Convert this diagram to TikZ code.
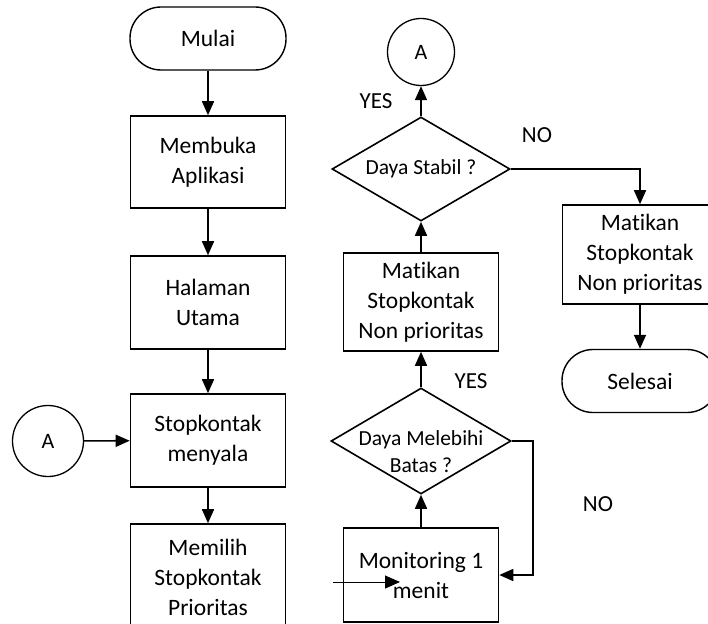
\documentclass[tikz,border=0pt]{standalone}
\usepackage{fontspec}
\setmainfont{Carlito}[Ligatures=NoCommon]
\usetikzlibrary{shapes.geometric,arrows.meta}
\begin{document}
\begin{tikzpicture}[x=1pt,y=-1pt,
  box/.style={draw,line width=1.6pt,inner sep=0pt,minimum width=155pt,align=center,font=\fontsize{23.5}{30}\selectfont},
  term/.style={draw,line width=1.4pt,rounded corners=31pt,inner sep=0pt,minimum width=156pt,minimum height=63pt,font=\fontsize{23.5}{30}\selectfont},
  conn/.style={draw,circle,line width=1.3pt,inner sep=0pt,font=\fontsize{22}{24}\selectfont},
  dec/.style={draw,diamond,line width=1.6pt,inner sep=0pt},
  dtext/.style={align=center,font=\fontsize{21.5}{27}\selectfont},
  lbl/.style={font=\fontsize{23}{28}\selectfont},
  arr/.style={line width=1.6pt,-{Triangle[length=14pt,width=12pt]}},
  thinarr/.style={line width=1pt,-{Triangle[length=15pt,width=13pt]}},
]
\useasboundingbox (0,0) rectangle (708,623);
\clip (0,0) rectangle (708,623);
% left column
\node[term] (mulai) at (208,38.5) {Mulai};
\node[box,minimum height=92pt] (buka) at (208,162) {Membuka\\Aplikasi};
\node[box,minimum height=93pt] (utama) at (208,302.5) {Halaman\\Utama};
\node[box,minimum height=93pt] (nyala) at (208,440.5) {Stopkontak\\menyala};
\node[box,minimum height=106pt] (pilih) at (208,577) {Memilih\\Stopkontak\\Prioritas};
\node[conn,minimum size=71pt] (a1) at (48,441) {A};
% middle column
\node[conn,minimum size=67pt] (a2) at (421,52) {A};
\node[dec,minimum width=178pt,minimum height=104pt] (stabil) at (421,169) {};
\node[dtext] (stabilt) at (421,169) {Daya Stabil ?};
\node[box,minimum height=98pt] (mati1) at (421,302) {Matikan\\Stopkontak\\Non prioritas};
\node[dec,minimum width=180pt,minimum height=106pt] (lebih) at (421,441) {};
\node[dtext] (lebiht) at (421,452) {Daya Melebihi\\Batas ?};
\node[box,minimum height=94pt] (monitor) at (421,575) {Monitoring 1\\menit};
% right column
\node[box,minimum height=99pt] (mati2) at (640,254.5) {Matikan\\Stopkontak\\Non prioritas};
\node[term] (selesai) at (640,381) {Selesai};
% labels
\node[lbl] (yes1) at (376,101) {YES};
\node[lbl] (no1) at (537,135) {NO};
\node[lbl] (yes2) at (471,381) {YES};
\node[lbl] (no2) at (598,504) {NO};
% connectors
\draw[arr] (mulai) -- (buka);
\draw[arr] (buka) -- (utama);
\draw[arr] (utama) -- (nyala);
\draw[arr] (nyala) -- (pilih);
\draw[arr] (a1) -- (nyala);
\draw[arr] (monitor) -- (lebih);
\draw[arr] (lebih) -- (mati1);
\draw[arr] (mati1) -- (stabil);
\draw[arr] (stabil) -- (a2);
\draw[arr] (stabil.east) -| (mati2.north);
\draw[arr] (mati2) -- (selesai);
\coordinate (c1) at (533,441);
\draw[arr] (lebih.east) -- (c1) |- (monitor.east);
\coordinate (s1) at (333,582);
\coordinate (s2) at (400,582);
\draw[thinarr] (s1) -- (s2);
\end{tikzpicture}
\end{document}
